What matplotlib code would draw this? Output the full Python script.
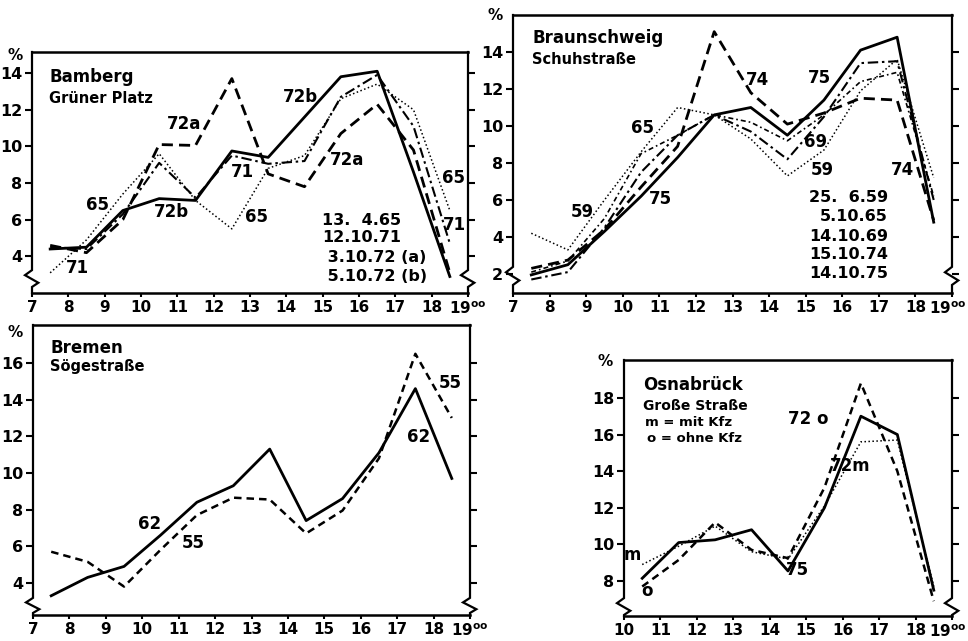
import matplotlib
matplotlib.use('Agg')
import matplotlib.pyplot as plt

plt.rcParams['font.family'] = ['DejaVu Sans']
plt.rcParams['font.weight'] = 'bold'

# ---- data (percent of daily pedestrians per hour, hours at half past) ----
hours_full = [7.5, 8.5, 9.5, 10.5, 11.5, 12.5, 13.5, 14.5, 15.5, 16.5, 17.5, 18.5]
hours_osn = [10.5, 11.5, 12.5, 13.5, 14.5, 15.5, 16.5, 17.5, 18.5]

bamberg_65 = [3.1, 4.9, 7.4, 9.6, 7.05, 5.5, 8.8, 9.5, 12.6, 13.4, 12.0, 6.5]
bamberg_71 = [4.5, 4.4, 6.3, 9.1, 7.2, 9.5, 9.05, 9.2, 12.7, 13.9, 11.1, 4.7]
bamberg_72a = [4.6, 4.2, 6.0, 10.1, 10.05, 13.7, 8.5, 7.8, 10.7, 12.3, 9.8, 3.1]
bamberg_72b = [4.4, 4.5, 6.5, 7.15, 7.05, 9.75, 9.4, 11.6, 13.8, 14.1, 8.6, 2.9]

braun_59 = [4.2, 3.3, 6.0, 8.6, 11.0, 10.6, 9.3, 7.3, 8.7, 11.9, 13.6, 7.2]
braun_65 = [2.1, 2.7, 5.0, 8.5, 9.5, 10.6, 10.2, 9.2, 10.6, 12.4, 12.9, 6.2]
braun_69 = [1.7, 2.1, 4.5, 7.5, 9.5, 10.6, 9.7, 8.2, 10.5, 13.4, 13.5, 6.0]
braun_74 = [2.3, 2.75, 4.4, 6.7, 8.9, 15.1, 11.8, 10.1, 10.7, 11.5, 11.4, 4.9]
braun_75 = [1.95, 2.5, 4.3, 6.2, 8.3, 10.6, 11.0, 9.5, 11.4, 14.1, 14.8, 4.8]

bremen_55 = [5.7, 5.15, 3.8, 5.8, 7.7, 8.65, 8.55, 6.7, 7.95, 10.8, 16.5, 13.0]
bremen_62 = [3.3, 4.3, 4.9, 6.6, 8.4, 9.3, 11.3, 7.4, 8.6, 11.1, 14.6, 9.7]

osn_72m = [8.9, 9.9, 11.0, 9.6, 9.2, 12.1, 15.6, 15.7, 7.7]
osn_72o = [7.7, 9.15, 11.2, 9.7, 9.25, 13.1, 18.8, 14.0, 6.9]
osn_75 = [8.15, 10.1, 10.25, 10.8, 8.55, 12.0, 17.0, 16.0, 7.5]

W, H = 968, 641
fig = plt.figure(figsize=(W / 100, H / 100), dpi=100)


def px_axes(x0, y0, x1, y1):
    return fig.add_axes([x0 / W, 1 - y1 / H, (x1 - x0) / W, (y1 - y0) / H])


def frame(ax, xmin, ylim, yticks, zig, width_px, shift19=0):
    ax.set_xlim(xmin, 19)
    ax.set_ylim(*ylim)
    xt = list(range(xmin, 20))
    ax.set_xticks(xt)
    ax.set_xticklabels([str(t) for t in xt[:-1]] + [''])
    # last hour label "19 Uhr" with raised "oo"
    ax.annotate(r'19$^{\mathbf{oo}}$', xy=(19, 0), xycoords=('data', 'axes fraction'),
                xytext=(shift19, -5), textcoords='offset points',
                ha='center', va='top', fontsize=11, fontweight='bold')
    ax.set_yticks(yticks)
    ax.set_yticklabels([str(t) for t in yticks])
    ax.tick_params(axis='y', direction='out', length=5, width=1.5,
                   right=True, labelright=False, labelsize=11.5, pad=2)
    ax.tick_params(axis='x', direction='out', length=3, width=1.5,
                   labelsize=11, pad=2)
    for s in ['top', 'bottom']:
        ax.spines[s].set_linewidth(1.8)
    ax.spines['left'].set_visible(False)
    ax.spines['right'].set_visible(False)
    f0, f1 = zig
    dx = 7 / width_px
    for x in (0, 1):
        xs = [x, x, x - dx, x + dx * 0.9, x, x]
        ys = [1, f1, f1 - (f1 - f0) * 0.3, f1 - (f1 - f0) * 0.75, f0, 0]
        ax.plot(xs, ys, color='black', lw=1.6, transform=ax.transAxes,
                clip_on=False, solid_joinstyle='miter')
    for lab in ax.get_xticklabels() + ax.get_yticklabels():
        lab.set_fontweight('bold')


def label(ax, x, y, s, size=12, ha='center', va='center'):
    ax.text(x, y, s, fontsize=size, fontweight='bold', ha=ha, va=va)


solid = dict(color='black', lw=2.0, ls='-')
longdash = dict(color='black', lw=2.0, ls=(0, (4.0, 2.2)))
dotted = dict(color='black', lw=1.1, ls=(0, (1, 1.6)))
dashdot = dict(color='black', lw=1.5, ls=(0, (5, 1.8, 1.2, 1.8)))
dashdot_fine = dict(color='black', lw=1.2, ls=(0, (3, 1.8, 1, 1.8)))
shortdash = dict(color='black', lw=1.8, ls=(0, (3.0, 2.0)))

# ---- Bamberg ----
ax1 = px_axes(32, 52, 468, 293)
ax1.plot(hours_full, bamberg_65, **dotted)
ax1.plot(hours_full, bamberg_71, **dashdot)
ax1.plot(hours_full, bamberg_72a, **longdash)
ax1.plot(hours_full, bamberg_72b, **solid)
frame(ax1, 7, (2.0, 15.15), [4, 6, 8, 10, 12, 14], (0.025, 0.095), 436)
label(ax1, 7.47, 13.78, 'Bamberg', 12, ha='left')
label(ax1, 7.47, 12.63, 'Grüner Platz', 10.5, ha='left')
for x, y, s in [(8.79, 6.79, '65'), (8.24, 3.34, '71'), (10.85, 6.4, '72b'),
                (11.18, 11.2, '72a'), (12.8, 8.6, '71'), (13.17, 6.13, '65'),
                (14.38, 12.69, '72b'), (15.67, 9.25, '72a'), (18.59, 8.26, '65'),
                (18.64, 5.69, '71')]:
    label(ax1, x, y, s)
for y, s in [(5.97, '13.  4.65'), (5.04, '12.10.71'), (3.95, ' 3.10.72 (a)'),
             (2.9, ' 5.10.72 (b)')]:
    label(ax1, 14.98, y, s, 11.5, ha='left')

# ---- Braunschweig ----
ax2 = px_axes(513, 15, 952, 293)
ax2.plot(hours_full, braun_59, **dotted)
ax2.plot(hours_full, braun_65, **dashdot_fine)
ax2.plot(hours_full, braun_69, **dashdot)
ax2.plot(hours_full, braun_74, **longdash)
ax2.plot(hours_full, braun_75, **solid)
frame(ax2, 7, (0.97, 16.0), [2, 4, 6, 8, 10, 12, 14], (0.029, 0.094), 439, shift19=-3)
label(ax2, 7.52, 14.76, 'Braunschweig', 12, ha='left')
label(ax2, 7.52, 13.57, 'Schuhstraße', 10.5, ha='left')
for x, y, s in [(13.67, 12.49, '74'), (15.39, 12.6, '75'), (10.55, 9.89, '65'),
                (15.26, 9.14, '69'), (15.45, 7.62, '59'), (17.66, 7.62, '74'),
                (8.89, 5.35, '59'), (11.02, 6.05, '75')]:
    label(ax2, x, y, s)
for y, s in [(6.16, '25.  6.59'), (5.08, '5.10.65'), (4.05, '14.10.69'),
             (3.03, '15.10.74'), (2.0, '14.10.75')]:
    label(ax2, 17.25, y, s, 11.5, ha='right')

# ---- Bremen ----
ax3 = px_axes(33, 325, 470, 615)
ax3.plot(hours_full, bremen_55, **shortdash)
ax3.plot(hours_full, bremen_62, **solid)
frame(ax3, 7, (2.25, 18.07), [4, 6, 8, 10, 12, 14, 16], (0.007, 0.059), 437)
label(ax3, 7.47, 16.82, 'Bremen', 12, ha='left')
label(ax3, 7.47, 15.78, 'Sögestraße', 10.5, ha='left')
for x, y, s in [(10.21, 7.22, '62'), (11.39, 6.18, '55'), (18.45, 14.91, '55'),
                (17.6, 11.97, '62')]:
    label(ax3, x, y, s)

# ---- Osnabrück ----
ax4 = px_axes(624, 360, 952, 616)
ax4.plot(hours_osn, osn_72m, **dotted)
ax4.plot(hours_osn, osn_72o, **shortdash)
ax4.plot(hours_osn, osn_75, **solid)
frame(ax4, 10, (6.09, 20.07), [8, 10, 12, 14, 16, 18], (0.004, 0.07), 328, shift19=-3)
label(ax4, 10.52, 18.71, 'Osnabrück', 12, ha='left')
label(ax4, 10.52, 17.56, 'Große Straße', 10, ha='left')
label(ax4, 10.58, 16.63, 'm = mit Kfz', 9.5, ha='left')
label(ax4, 10.63, 15.81, 'o = ohne Kfz', 9.5, ha='left')
for x, y, s in [(15.05, 16.85, '72 o'), (16.2, 14.28, '72m'), (14.75, 8.6, '75'),
                (10.22, 9.42, 'm'), (10.63, 7.45, 'o')]:
    label(ax4, x, y, s)

# percent signs above the y axes
for x, y in [(15, 55), (495, 15), (15, 332), (605, 362)]:
    fig.text(x / W, 1 - y / H, '%', fontsize=11, fontweight='bold',
             ha='center', va='center')

fig.savefig('out.png', dpi=100)
